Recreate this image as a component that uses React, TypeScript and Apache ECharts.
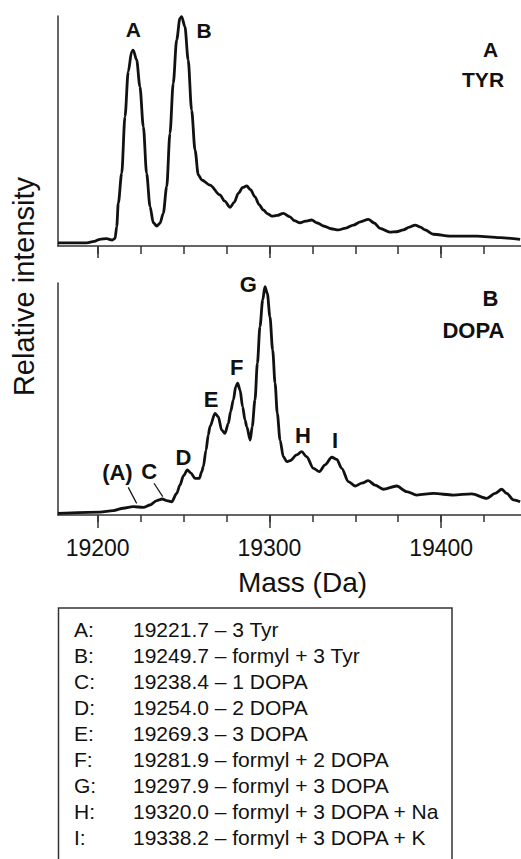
import React, { useEffect, useRef } from "react";
import * as echarts from "echarts";

// ---------- data ----------
const topMass = [19176.9, 19193.6, 19198.0, 19201.3, 19205.2, 19208.5, 19210.1, 19211.1, 19212.0, 19214.0, 19215.9, 19217.8, 19219.8, 19220.7, 19222.7, 19224.6, 19226.6, 19228.5, 19230.5, 19232.4, 19234.4, 19236.3, 19238.2, 19240.2, 19242.1, 19244.0, 19246.0, 19247.9, 19248.9, 19250.8, 19252.7, 19254.7, 19256.7, 19258.6, 19260.6, 19265.4, 19271.2, 19274.0, 19277.1, 19279.5, 19281.9, 19284.5, 19286.8, 19289.0, 19291.6, 19294.0, 19296.4, 19299.0, 19301.3, 19304.5, 19308.1, 19312.0, 19314.5, 19317.8, 19321.0, 19324.6, 19328.0, 19331.4, 19336.0, 19340.1, 19344.5, 19348.9, 19353.0, 19357.6, 19361.0, 19364.4, 19370.2, 19374.0, 19378.0, 19381.5, 19384.8, 19388.0, 19390.6, 19395.5, 19405.2, 19420.7, 19434.3, 19446.0];
const topIntensity = [1.4, 1.4, 2.0, 2.9, 3.2, 2.6, 3.3, 8.4, 18.6, 31.6, 56.2, 75.8, 84.5, 85.2, 80.9, 69.3, 51.9, 31.6, 17.1, 10.1, 8.7, 9.9, 14.2, 25.8, 49.0, 70.7, 89.6, 99.0, 99.7, 95.4, 80.9, 59.1, 41.7, 30.9, 28.7, 26.5, 22.2, 19.5, 16.8, 19.0, 22.9, 25.5, 26.1, 24.5, 21.4, 18.0, 15.7, 14.0, 13.0, 13.3, 14.2, 12.7, 11.0, 10.1, 10.8, 11.3, 10.0, 8.7, 7.5, 7.0, 7.8, 9.1, 10.5, 11.6, 10.0, 7.7, 6.0, 6.2, 7.0, 8.2, 9.1, 8.2, 7.0, 5.1, 4.3, 4.3, 3.6, 2.9];

const bottomMass = [19176.9, 19201.3, 19209.1, 19214.9, 19220.7, 19226.6, 19230.5, 19234.4, 19237.6, 19240.2, 19243.1, 19246.0, 19247.9, 19249.9, 19252.2, 19254.2, 19256.7, 19259.2, 19260.6, 19261.5, 19263.1, 19264.4, 19265.4, 19268.3, 19270.2, 19272.2, 19274.1, 19276.1, 19277.4, 19279.0, 19280.4, 19281.5, 19282.9, 19284.4, 19285.8, 19286.8, 19288.8, 19290.0, 19291.6, 19293.0, 19294.5, 19296.1, 19297.4, 19298.8, 19300.3, 19301.9, 19303.3, 19304.6, 19306.2, 19308.1, 19310.1, 19312.0, 19315.9, 19318.8, 19321.7, 19325.6, 19329.1, 19332.4, 19336.3, 19339.2, 19342.1, 19346.0, 19349.9, 19353.8, 19357.6, 19361.5, 19366.3, 19374.1, 19379.9, 19385.8, 19395.5, 19407.1, 19417.8, 19426.6, 19431.4, 19435.3, 19438.2, 19442.1, 19446.0];
const bottomIntensity = [0.7, 1.2, 1.9, 2.9, 3.6, 3.3, 4.3, 6.2, 6.9, 6.2, 5.7, 9.3, 12.9, 16.8, 19.4, 18.2, 15.8, 15.8, 18.7, 20.8, 28.0, 34.5, 38.1, 43.8, 42.4, 36.6, 35.2, 39.5, 44.5, 49.6, 55.3, 56.8, 53.9, 46.7, 40.9, 38.1, 32.3, 38.1, 49.6, 65.4, 81.2, 92.7, 98.4, 95.5, 85.5, 71.1, 56.8, 43.8, 32.3, 25.1, 23.0, 23.4, 25.9, 27.3, 25.1, 20.1, 18.7, 21.6, 24.9, 24.0, 20.1, 14.4, 12.5, 13.7, 14.8, 12.9, 11.1, 12.5, 10.1, 8.6, 9.3, 8.6, 9.1, 7.2, 9.3, 11.1, 9.3, 6.5, 5.7];

// peak / panel labels: [text, mass, intensity]
const topLabels: [string, number, number][] = [
  ["A", 19220.7, 94.0],
  ["B", 19261.9, 93.9],
  ["A", 19428.8, 85.6],
  ["TYR", 19424.4, 72.4],
];
const bottomLabels: [string, number, number][] = [
  ["G", 19287.7, 99.3],
  ["B", 19428.7, 93.4],
  ["DOPA", 19418.8, 79.5],
  ["F", 19281.0, 63.4],
  ["E", 19266.1, 49.9],
  ["H", 19319.5, 34.4],
  ["I", 19338.2, 32.2],
  ["D", 19249.9, 25.0],
  ["C", 19230.0, 18.8],
  ["(A)", 19211.5, 18.5],
];
// leader lines: [[m1, v1], [m2, v2]]
const leaderLines: [[number, number], [number, number]][] = [
  [[19217.8, 11.9], [19222.7, 5.0]],
  [[19232.8, 13.7], [19237.9, 7.9]],
];

const minorTicks = [19200, 19225, 19250, 19275, 19300, 19325, 19350, 19375, 19400, 19425];
const majorTicks = [19200, 19300, 19400];
const xMin = 19176.9;
const xMax = 19446.5;

const legendKeys = ["A:", "B:", "C:", "D:", "E:", "F:", "G:", "H:", "I:"];
const legendDescriptions = [
  "19221.7 – 3 Tyr",
  "19249.7 – formyl + 3 Tyr",
  "19238.4 – 1 DOPA",
  "19254.0 – 2 DOPA",
  "19269.3 – 3 DOPA",
  "19281.9 – formyl + 2 DOPA",
  "19297.9 – formyl + 3 DOPA",
  "19320.0 – formyl + 3 DOPA + Na",
  "19338.2 – formyl + 3 DOPA + K",
];

const FONT = "'Liberation Sans', Arial, Helvetica, sans-serif";
const INK = "#111111";
const AXIS = "#333333";

function zip(a: number[], b: number[]) {
  return a.map((v, i) => [v, b[i]]);
}

export default function App() {
  const ref = useRef<HTMLDivElement>(null);
  useEffect(() => {
    if (!ref.current) return;
    const chart = echarts.init(ref.current, undefined, { renderer: "svg" });

    const xBase = (grid: number, ticks: number[], len: number, showLine: boolean, labels: boolean) => ({
      type: "value",
      gridIndex: grid,
      position: "bottom",
      min: xMin,
      max: xMax,
      axisLine: { show: showLine, onZero: false, lineStyle: { color: AXIS, width: 1.5 } },
      axisTick: { show: true, customValues: ticks, length: len, lineStyle: { color: AXIS, width: 1.5 } },
      axisLabel: labels
        ? {
            show: true,
            customValues: majorTicks,
            formatter: (v: number) => String(Math.round(v)),
            fontSize: 23,
            fontFamily: FONT,
            color: INK,
            margin: 21,
          }
        : { show: false },
      splitLine: { show: false },
    });

    const yBase = (grid: number) => ({
      type: "value",
      gridIndex: grid,
      min: 0,
      max: 100,
      axisLine: { show: true, onZero: false, lineStyle: { color: AXIS, width: 1.5 } },
      axisTick: { show: false },
      axisLabel: { show: false },
      splitLine: { show: false },
    });

    const labelSeries = (labels: [string, number, number][], xi: number, yi: number, size: number) => ({
      type: "scatter",
      xAxisIndex: xi,
      yAxisIndex: yi,
      symbolSize: 0,
      itemStyle: { color: INK, opacity: 1 },
      silent: true,
      z: 5,
      data: labels.map(([t, m, v]) => ({ name: t, value: [m, v] })),
      label: {
        show: true,
        position: "inside",
        formatter: (p: any) => p.name,
        fontSize: size,
        fontWeight: "bold",
        fontFamily: FONT,
        color: INK,
        textBorderWidth: 0,
        opacity: 1,
      },
      emphasis: { disabled: true },
    });

    const rowY0 = 629;
    const rowStep = 26;
    const legendGraphics: any[] = [];
    legendKeys.forEach((k, i) => {
      legendGraphics.push({
        type: "text",
        x: 74,
        y: rowY0 + i * rowStep,
        style: { text: k, font: `21px ${FONT}`, fill: INK, textVerticalAlign: "middle" },
      });
      legendGraphics.push({
        type: "text",
        x: 133,
        y: rowY0 + i * rowStep,
        style: { text: legendDescriptions[i], font: `21px ${FONT}`, fill: INK, textVerticalAlign: "middle" },
      });
    });

    chart.setOption({
      animation: false,
      backgroundColor: "#fff",
      grid: [
        { left: 58, top: 16, width: 463, height: 230 },
        { left: 58, top: 283, width: 463, height: 232 },
      ],
      xAxis: [
        xBase(0, minorTicks, 8, true, false),
        xBase(0, majorTicks, 12, false, false),
        xBase(1, minorTicks, 7, true, false),
        xBase(1, majorTicks, 13, false, true),
      ],
      yAxis: [yBase(0), yBase(1)],
      series: [
        {
          type: "line",
          xAxisIndex: 0,
          yAxisIndex: 0,
          data: zip(topMass, topIntensity),
          showSymbol: false,
          smooth: 0.3,
          smoothMonotone: "x",
          lineStyle: { color: INK, width: 2.8 },
        },
        {
          type: "line",
          xAxisIndex: 2,
          yAxisIndex: 1,
          data: zip(bottomMass, bottomIntensity),
          showSymbol: false,
          smooth: 0.3,
          smoothMonotone: "x",
          lineStyle: { color: INK, width: 2.8 },
          markLine: {
            silent: true,
            symbol: "none",
            label: { show: false },
            lineStyle: { color: INK, width: 1.2, type: "solid" },
            data: leaderLines.map(([a, b]) => [{ coord: a }, { coord: b }]),
          },
        },
        labelSeries(topLabels, 0, 0, 21),
        labelSeries(bottomLabels, 2, 1, 22),
      ],
      graphic: [
        {
          type: "text",
          x: 23.5,
          y: 286.5,
          rotation: Math.PI / 2,
          style: {
            text: "Relative intensity",
            font: `29px ${FONT}`,
            fill: INK,
            textAlign: "center",
            textVerticalAlign: "middle",
          },
        },
        {
          type: "text",
          x: 302.5,
          y: 582,
          style: {
            text: "Mass (Da)",
            font: `28px ${FONT}`,
            fill: INK,
            textAlign: "center",
            textVerticalAlign: "middle",
          },
        },
        {
          type: "rect",
          shape: { x: 58.5, y: 608, width: 393.5, height: 300 },
          style: { fill: "none", stroke: AXIS, lineWidth: 1.5 },
        },
        ...legendGraphics,
      ],
    });
    return () => chart.dispose();
  }, []);
  return (
    <div
      ref={ref}
      style={{ position: "absolute", left: 0, top: 0, width: 521, height: 859, background: "#fff" }}
    />
  );
}
